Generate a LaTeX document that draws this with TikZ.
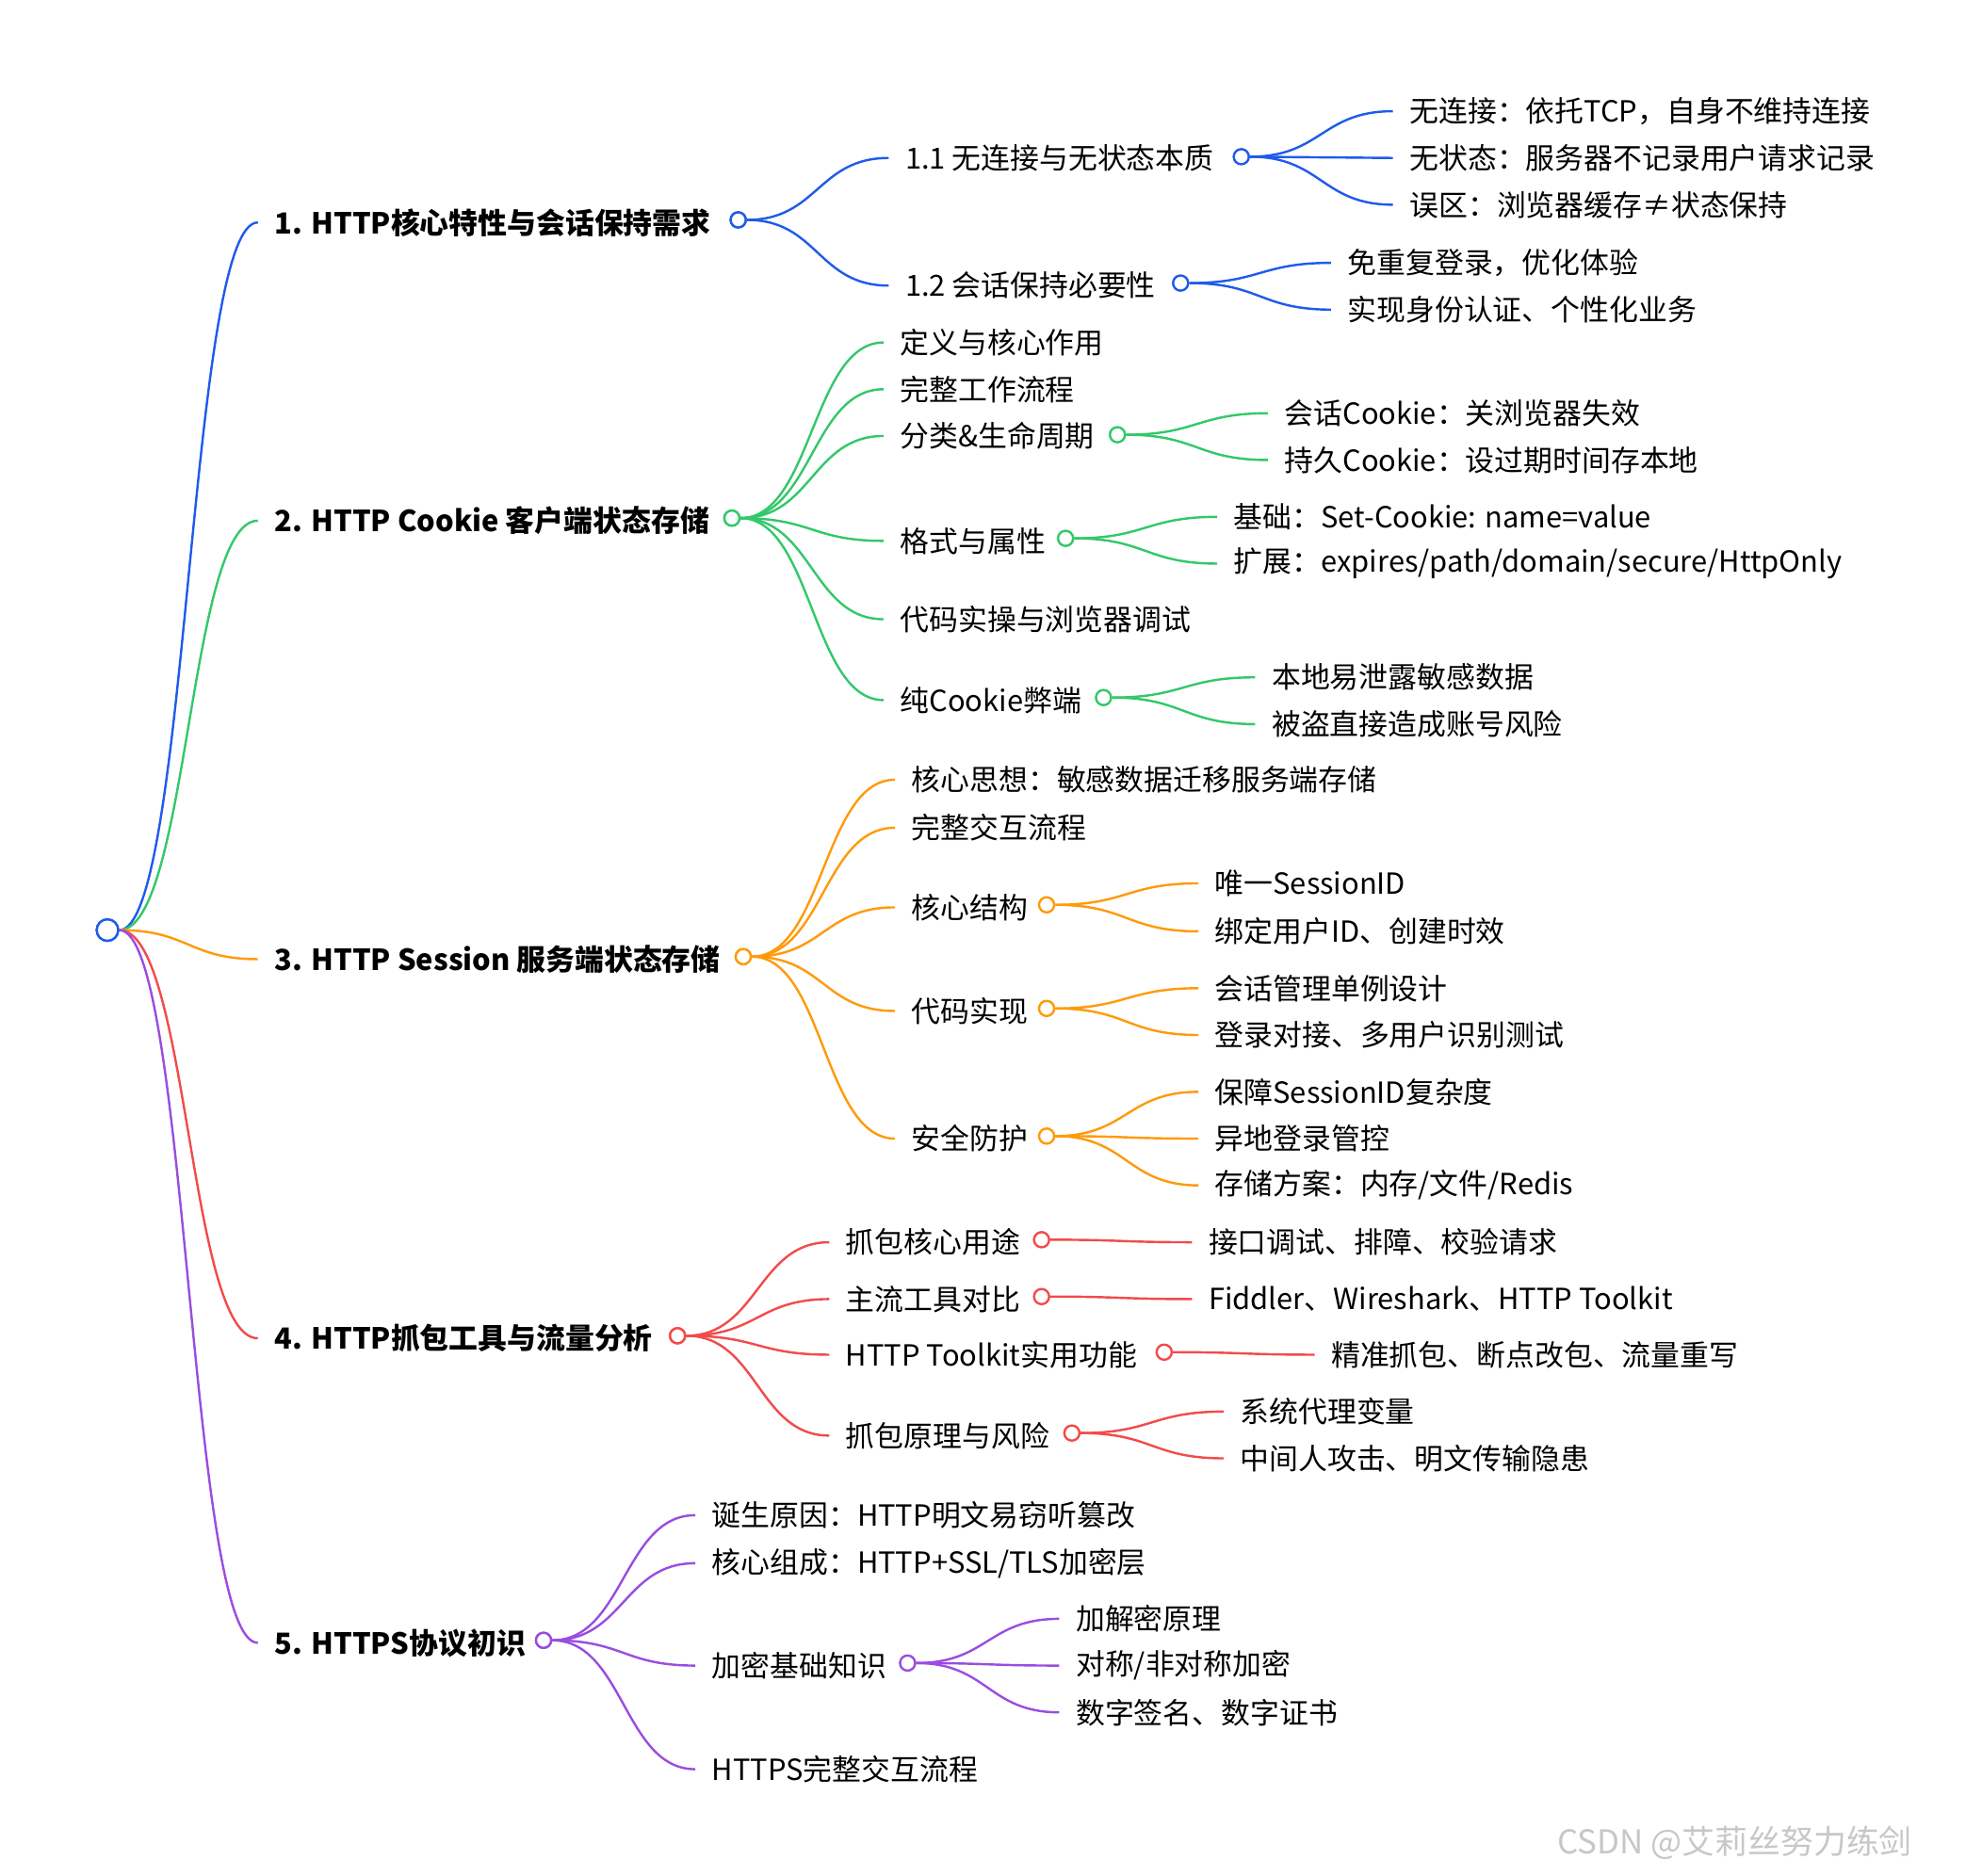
\documentclass[tikz,border=0pt]{standalone}
\usepackage{fontspec}
\setmainfont{Noto Sans CJK SC}
\usetikzlibrary{calc}

\definecolor{cblue}{HTML}{1F5BEB}
\definecolor{cgreen}{HTML}{33C86A}
\definecolor{corange}{HTML}{FF9A0A}
\definecolor{cred}{HTML}{F24B4B}
\definecolor{cpurple}{HTML}{9A4DE0}

\tikzset{
  txt/.style={anchor=west, inner sep=0pt, font=\fontsize{23}{27}\selectfont},
  head/.style={txt, font=\fontsize{23}{27}\selectfont\bfseries},
  dot/.style={circle, draw=#1, fill=white, line width=1.8pt, minimum size=12pt, inner sep=0pt},
  wire/.style={draw=#1, line width=1.8pt},
}

% link from circle node #1 to coordinate #2
\newcommand{\link}[3]{%
  \draw[wire=#3] (#1.east) let \p1=(#1.east), \p2=(#2) in
    .. controls ({(\x1+\x2)/2},\y1) and ({(\x1+\x2)/2},\y2) .. (#2);}
% leaf: name, x, y, text, parent, colour
\newcommand{\leaf}[6]{%
  \coordinate (#1in) at (#2-13,#3);
  \node[txt] (#1) at (#2,#3) {#4};
  \link{#5}{#1in}{#6}}

\begin{document}
\begin{tikzpicture}[x=1pt, y=-1pt]
\useasboundingbox (0,0) rectangle (1568,1484);

% level 1
\node[head] (h1) at (217,176) {1. HTTP核心特性与会话保持需求};
\node[head] (h2) at (217,412) {2. HTTP Cookie 客户端状态存储};
\node[head] (h3) at (217,759) {3. HTTP Session 服务端状态存储};
\node[head] (h4) at (217,1059) {4. HTTP抓包工具与流量分析};
\node[head] (h5) at (217,1300) {5. HTTPS协议初识};
\coordinate (h1in) at (204,176);
\coordinate (h2in) at (204,412);
\coordinate (h3in) at (204,759);
\coordinate (h4in) at (204,1059);
\coordinate (h5in) at (204,1300);

% branch 1
\node[txt] (a1) at (716,125) {1.1 无连接与无状态本质};
\node[txt] (a2) at (716,226) {1.2 会话保持必要性};
\coordinate (a1in) at (703,125);
\coordinate (a2in) at (703,226);
\node[dot=cblue] (pa1) at (982,124) {};
\node[dot=cblue] (pa2) at (934,224) {};
\leaf{a11}{1115}{88}{无连接：依托TCP，自身不维持连接}{pa1}{cblue}
\leaf{a12}{1115}{125}{无状态：服务器不记录用户请求记录}{pa1}{cblue}
\leaf{a13}{1115}{162}{误区：浏览器缓存≠状态保持}{pa1}{cblue}
\leaf{a21}{1066}{208}{免重复登录，优化体验}{pa2}{cblue}
\leaf{a22}{1066}{245}{实现身份认证、个性化业务}{pa2}{cblue}
\node[dot=cblue] (p1) at (584,174) {};
\link{p1}{a1in}{cblue}
\link{p1}{a2in}{cblue}

% branch 2
\node[dot=cgreen] (p2) at (579,410) {};
\leaf{b1}{712}{271}{定义与核心作用}{p2}{cgreen}
\leaf{b2}{712}{308}{完整工作流程}{p2}{cgreen}
\leaf{b3}{712}{345}{分类\&生命周期}{p2}{cgreen}
\leaf{b4}{712}{428}{格式与属性}{p2}{cgreen}
\leaf{b5}{712}{490}{代码实操与浏览器调试}{p2}{cgreen}
\leaf{b6}{712}{554}{纯Cookie弊端}{p2}{cgreen}
\node[dot=cgreen] (pb3) at (884,344) {};
\node[dot=cgreen] (pb4) at (843,426) {};
\node[dot=cgreen] (pb6) at (873,552) {};
\leaf{b31}{1016}{327}{会话Cookie：关浏览器失效}{pb3}{cgreen}
\leaf{b32}{1016}{364}{持久Cookie：设过期时间存本地}{pb3}{cgreen}
\leaf{b41}{976}{409}{基础：Set-Cookie: name=value}{pb4}{cgreen}
\leaf{b42}{976}{446}{扩展：expires/path/domain/secure/HttpOnly}{pb4}{cgreen}
\leaf{b61}{1006}{536}{本地易泄露敏感数据}{pb6}{cgreen}
\leaf{b62}{1006}{573}{被盗直接造成账号风险}{pb6}{cgreen}
\node[dot=cgreen] (p2) at (579,410) {};

% branch 3
\node[dot=corange] (p3) at (588,757) {};
\leaf{c1}{721}{617}{核心思想：敏感数据迁移服务端存储}{p3}{corange}
\leaf{c2}{721}{655}{完整交互流程}{p3}{corange}
\leaf{c3}{721}{718}{核心结构}{p3}{corange}
\leaf{c4}{721}{800}{代码实现}{p3}{corange}
\leaf{c5}{721}{901}{安全防护}{p3}{corange}
\node[dot=corange] (pc3) at (828,716) {};
\node[dot=corange] (pc4) at (828,798) {};
\node[dot=corange] (pc5) at (828,899) {};
\leaf{c31}{961}{699}{唯一SessionID}{pc3}{corange}
\leaf{c32}{961}{737}{绑定用户ID、创建时效}{pc3}{corange}
\leaf{c41}{961}{782}{会话管理单例设计}{pc4}{corange}
\leaf{c42}{961}{819}{登录对接、多用户识别测试}{pc4}{corange}
\leaf{c51}{961}{864}{保障SessionID复杂度}{pc5}{corange}
\leaf{c52}{961}{901}{异地登录管控}{pc5}{corange}
\leaf{c53}{961}{938}{存储方案：内存/文件/Redis}{pc5}{corange}
\node[dot=corange] (p3) at (588,757) {};

% branch 4
\node[dot=cred] (p4) at (536,1057) {};
\leaf{d1}{669}{983}{抓包核心用途}{p4}{cred}
\leaf{d2}{669}{1028}{主流工具对比}{p4}{cred}
\leaf{d3}{669}{1072}{HTTP Toolkit实用功能}{p4}{cred}
\leaf{d4}{669}{1136}{抓包原理与风险}{p4}{cred}
\node[dot=cred] (pd1) at (824,981) {};
\node[dot=cred] (pd2) at (824,1026) {};
\node[dot=cred] (pd3) at (921,1070) {};
\node[dot=cred] (pd4) at (848,1134) {};
\leaf{d11}{956}{983}{接口调试、排障、校验请求}{pd1}{cred}
\leaf{d21}{956}{1028}{Fiddler、Wireshark、HTTP Toolkit}{pd2}{cred}
\leaf{d31}{1053}{1072}{精准抓包、断点改包、流量重写}{pd3}{cred}
\leaf{d41}{981}{1117}{系统代理变量}{pd4}{cred}
\leaf{d42}{981}{1154}{中间人攻击、明文传输隐患}{pd4}{cred}
\node[dot=cred] (p4) at (536,1057) {};

% branch 5
\node[dot=cpurple] (p5) at (430,1298) {};
\leaf{e1}{563}{1199}{诞生原因：HTTP明文易窃听篡改}{p5}{cpurple}
\leaf{e2}{563}{1237}{核心组成：HTTP+SSL/TLS加密层}{p5}{cpurple}
\leaf{e3}{563}{1318}{加密基础知识}{p5}{cpurple}
\leaf{e4}{563}{1400}{HTTPS完整交互流程}{p5}{cpurple}
\node[dot=cpurple] (pe3) at (718,1316) {};
\leaf{e31}{851}{1281}{加解密原理}{pe3}{cpurple}
\leaf{e32}{851}{1318}{对称/非对称加密}{pe3}{cpurple}
\leaf{e33}{851}{1355}{数字签名、数字证书}{pe3}{cpurple}
\node[dot=cpurple] (p5) at (430,1298) {};

% root
\node[dot=cblue, minimum size=17pt] (root) at (85,736) {};
\link{root}{h1in}{cblue}
\link{root}{h2in}{cgreen}
\link{root}{h3in}{corange}
\link{root}{h4in}{cred}
\link{root}{h5in}{cpurple}
\node[dot=cblue, minimum size=17pt] (root) at (85,736) {};
\node[dot=cblue] (p1) at (584,174) {};

\node[txt, text=black!22, font=\fontsize{26}{30}\selectfont] (mark) at (1232,1458) {CSDN @艾莉丝努力练剑};
\end{tikzpicture}
\end{document}
